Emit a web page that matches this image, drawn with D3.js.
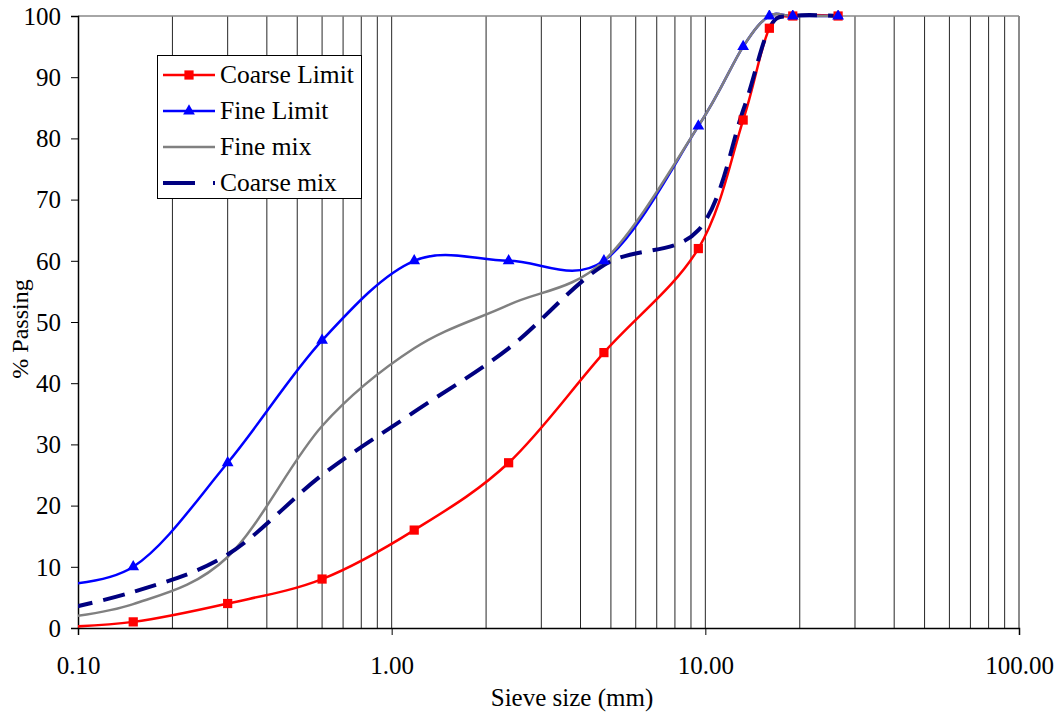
<!DOCTYPE html>
<html>
<head>
<meta charset="utf-8">
<script src="https://cdn.jsdelivr.net/npm/d3@7"></script>
<style>
  body { margin: 0; background: #fff; }
  text { font-family: "Liberation Serif", "Times New Roman", serif; fill: #000; }
</style>
</head>
<body>
<div id="chart"></div>
<script>
// sieve sizes (mm) and % passing for each series
const sieves = [0.075, 0.15, 0.3, 0.6, 1.18, 2.36, 4.75, 9.5, 13.2, 16, 19, 26.5];
const coarseLimit = [0, 1, 4, 8, 16, 27, 45, 62, 83, 98, 100, 100];
const fineLimit = [7, 10, 27, 47, 60, 60, 60, 82, 95, 100, 100, 100];
const fineMix = [1.2, 3.9, 11.6, 33, 45.7, 52.8, 60, 82, 95, 100, 100, 100];
const coarseMix = [2.2, 5.9, 12, 25, 35.3, 45.7, 59.3, 65, 84.6, 98, 100, 100];

const xTickValues = [0.1, 1, 10, 100];
const yTickValues = [0, 10, 20, 30, 40, 50, 60, 70, 80, 90, 100];

const width = 1060;
const height = 717;
const margin = { top: 16, right: 41, bottom: 89, left: 78 };
const serif = "'Liberation Serif', 'Times New Roman', serif";

const svg = d3.select("#chart")
  .append("svg")
  .attr("width", width)
  .attr("height", height);

const x = d3.scaleLog()
  .domain([0.1, 100])
  .range([margin.left, width - margin.right]);

const y = d3.scaleLinear()
  .domain([0, 100])
  .range([height - margin.bottom, margin.top]);

// clip so the 0.075 point is cut at the axis
svg.append("clipPath").attr("id", "plot")
  .append("rect")
  .attr("x", margin.left)
  .attr("y", margin.top - 6)
  .attr("width", width - margin.left - margin.right)
  .attr("height", height - margin.top - margin.bottom + 6);

// vertical gridlines at every log tick
const gridTicks = x.ticks().filter(d => d > 0.1);
svg.append("g")
  .selectAll("line")
  .data(gridTicks)
  .enter().append("line")
  .attr("x1", d => x(d))
  .attr("x2", d => x(d))
  .attr("y1", y(0))
  .attr("y2", y(100))
  .attr("stroke", "#262626")
  .attr("stroke-width", 1);

// plot border top / right
svg.append("line")
  .attr("x1", x(0.1)).attr("x2", x(100))
  .attr("y1", y(100)).attr("y2", y(100))
  .attr("stroke", "#888").attr("stroke-width", 1.5);
svg.append("line")
  .attr("x1", x(100)).attr("x2", x(100))
  .attr("y1", y(100)).attr("y2", y(0))
  .attr("stroke", "#888").attr("stroke-width", 1.5);

// axes
const xAxis = svg.append("g")
  .attr("transform", `translate(0,${y(0)})`)
  .call(d3.axisBottom(x).tickValues(xTickValues).tickFormat(d3.format(".2f")).tickSize(7).tickPadding(21));
const yAxis = svg.append("g")
  .attr("transform", `translate(${x(0.1)},0)`)
  .call(d3.axisLeft(y).tickValues(yTickValues).tickSize(7).tickPadding(10));

[xAxis, yAxis].forEach(a => {
  a.attr("font-family", serif);
  a.select(".domain").attr("stroke", "#000").attr("stroke-width", 1.5);
  a.selectAll(".tick line").attr("stroke", "#000").attr("stroke-width", 1);
  a.selectAll("text")
    .attr("font-size", 25)
    .attr("font-family", serif)
    .attr("fill", "#000");
});
yAxis.selectAll("text").attr("dy", "0.33em");

// axis titles
svg.append("text")
  .attr("x", 572)
  .attr("y", 706)
  .attr("text-anchor", "middle")
  .attr("font-family", serif)
  .attr("font-size", 25)
  .text("Sieve size (mm)");

svg.append("text")
  .attr("transform", "translate(28,329) rotate(-90)")
  .attr("text-anchor", "middle")
  .attr("font-family", serif)
  .attr("font-size", 24)
  .text("% Passing");

// series
const series = [
  { name: "Coarse Limit", values: coarseLimit, color: "#FF0000", width: 2.5, dash: null, marker: "square" },
  { name: "Fine Limit", values: fineLimit, color: "#0000FF", width: 2.5, dash: null, marker: "triangle" },
  { name: "Fine mix", values: fineMix, color: "#808080", width: 2.5, dash: null, marker: null },
  { name: "Coarse mix", values: coarseMix, color: "#000080", width: 4, dash: "22,11", marker: null }
];

const line = d3.line()
  .x(d => x(d[0]))
  .y(d => y(d[1]))
  .curve(d3.curveCatmullRom.alpha(0));

const plot = svg.append("g").attr("clip-path", "url(#plot)");

series.forEach(s => {
  plot.append("path")
    .datum(sieves.map((v, i) => [v, s.values[i]]))
    .attr("d", line)
    .attr("fill", "none")
    .attr("stroke", s.color)
    .attr("stroke-width", s.width)
    .attr("stroke-dasharray", s.dash);
});

const squareSym = d3.symbol().type(d3.symbolSquare).size(85);
const triSym = d3.symbol().type(d3.symbolTriangle).size(60);

series.filter(s => s.marker).forEach(s => {
  plot.append("g")
    .selectAll("path")
    .data(sieves.map((v, i) => [v, s.values[i]]).filter(d => d[0] >= 0.1))
    .enter().append("path")
    .attr("transform", d => `translate(${x(d[0])},${y(d[1])})`)
    .attr("d", s.marker === "square" ? squareSym : triSym)
    .attr("fill", s.color);
});

// legend
const legend = svg.append("g");
legend.append("rect")
  .attr("x", 157.5).attr("y", 55.5)
  .attr("width", 204).attr("height", 143)
  .attr("fill", "#fff")
  .attr("stroke", "#000")
  .attr("stroke-width", 1);

series.forEach((s, i) => {
  const ly = 75 + i * 36;
  legend.append("line")
    .attr("x1", 163).attr("x2", 215)
    .attr("y1", ly).attr("y2", ly)
    .attr("stroke", s.color)
    .attr("stroke-width", s.width)
    .attr("stroke-dasharray", s.dash ? "32,18" : null);
  if (s.marker) {
    legend.append("path")
      .attr("transform", `translate(189,${ly})`)
      .attr("d", s.marker === "square" ? squareSym : triSym)
      .attr("fill", s.color);
  }
  legend.append("text")
    .attr("x", 220)
    .attr("y", ly + 8)
    .attr("font-family", serif)
    .attr("font-size", 25.5)
    .text(s.name);
});
</script>
</body>
</html>
